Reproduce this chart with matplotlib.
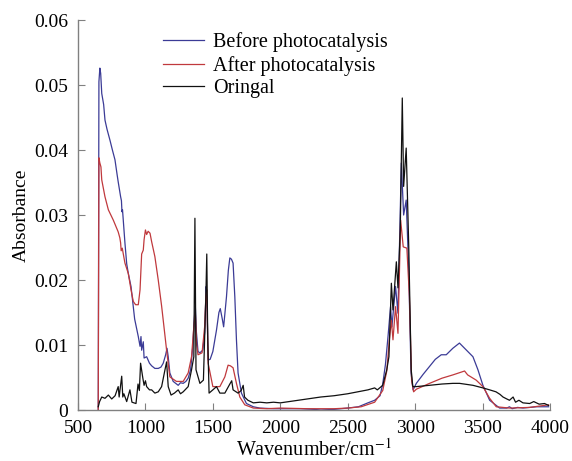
import matplotlib

matplotlib.use("Agg")
import matplotlib.pyplot as plt
import matplotlib.ticker as mticker

plt.rcParams["font.family"] = ["Liberation Serif", "DejaVu Serif"]
plt.rcParams["mathtext.fontset"] = "stix"

# FTIR spectra, wavenumber (cm^-1) vs absorbance
before_wn = [650, 655, 662, 668, 676, 690, 700, 715, 737, 755, 774, 790, 798, 816, 822, 826,
             830, 848, 861, 873, 893, 905, 920, 947, 960, 967, 972, 984, 990, 1009, 1030,
             1046, 1070, 1095, 1115, 1132, 1150, 1160, 1169, 1181, 1206, 1243, 1260, 1280,
             1300, 1317, 1335, 1350, 1362, 1370, 1378, 1390, 1404, 1425, 1440, 1450, 1456,
             1465, 1480, 1500, 1527, 1545, 1555, 1570, 1580, 1601, 1615, 1626, 1638, 1650,
             1663, 1675, 1687, 1712, 1749, 1800, 1848, 1950, 2050, 2150, 2250, 2300, 2400,
             2500, 2580, 2650, 2700, 2740, 2760, 2780, 2800, 2818, 2828, 2855, 2873, 2898,
             2915, 2934, 2952, 2970, 2985, 3009, 3060, 3107, 3150, 3194, 3231, 3280, 3329,
             3367, 3429, 3466, 3503, 3553, 3627, 3680, 3700, 3720, 3760, 3800, 3900, 3990]
before_abs = [0.0, 0.0505, 0.0526, 0.0518, 0.0487, 0.0470, 0.0446, 0.0432, 0.0415, 0.0400,
              0.0385, 0.0362, 0.0351, 0.0328, 0.0322, 0.0305, 0.0308, 0.0257, 0.0225, 0.0210,
              0.0190, 0.0168, 0.0140, 0.0113, 0.0098, 0.0113, 0.0092, 0.0105, 0.0080, 0.0082,
              0.0072, 0.0068, 0.0064, 0.0064, 0.0066, 0.0072, 0.0085, 0.0095, 0.0082, 0.0057,
              0.0044, 0.0038, 0.0042, 0.0041, 0.0044, 0.0049, 0.0062, 0.0095, 0.0140, 0.0160,
              0.0120, 0.0090, 0.0088, 0.0092, 0.0120, 0.0190, 0.0170, 0.0077, 0.0078, 0.0090,
              0.0123, 0.0150, 0.0156, 0.0140, 0.0128, 0.0174, 0.0215, 0.0234, 0.0232, 0.0226,
              0.0174, 0.0108, 0.0057, 0.0026, 0.0010, 0.0005, 0.0003, 0.0002, 0.0002, 0.0002,
              0.0001, 0.0000, 0.0001, 0.0003, 0.0005, 0.0011, 0.0015, 0.0022, 0.0040, 0.0070,
              0.0115, 0.0159, 0.0128, 0.0190, 0.0149, 0.0380, 0.0300, 0.0323, 0.0220, 0.0057,
              0.0031, 0.0041, 0.0055, 0.0067, 0.0078, 0.0085, 0.0085, 0.0095, 0.0103, 0.0095,
              0.0082, 0.0062, 0.0038, 0.0015, 0.0003, 0.0003, 0.0005, 0.0002, 0.0004, 0.0003,
              0.0005, 0.0005]

after_wn = [650, 655, 662, 670, 676, 700, 725, 762, 798, 810, 816, 820, 828, 848, 873, 893,
            910, 927, 947, 960, 972, 984, 990, 1000, 1009, 1020, 1034, 1046, 1070, 1095,
            1120, 1132, 1157, 1181, 1230, 1280, 1317, 1342, 1359, 1370, 1380, 1390, 1420,
            1440, 1448, 1455, 1465, 1500, 1552, 1589, 1613, 1630, 1650, 1675, 1700, 1737,
            1800, 1900, 2000, 2200, 2400, 2500, 2600, 2700, 2760, 2790, 2810, 2824, 2836,
            2855, 2873, 2893, 2912, 2939, 2958, 2974, 2989, 3009, 3107, 3200, 3280, 3367,
            3390, 3453, 3503, 3553, 3602, 3700, 3850, 3990]
after_abs = [0.0, 0.0388, 0.0380, 0.0374, 0.0354, 0.0328, 0.0308, 0.0292, 0.0274, 0.0265,
             0.0257, 0.0245, 0.0249, 0.0226, 0.0210, 0.0185, 0.0167, 0.0162, 0.0162, 0.0185,
             0.0240, 0.0246, 0.0262, 0.0277, 0.0270, 0.0275, 0.0272, 0.0259, 0.0236, 0.0200,
             0.0160, 0.0138, 0.0092, 0.0051, 0.0044, 0.0044, 0.0057, 0.0082, 0.0128, 0.0150,
             0.0100, 0.0085, 0.0088, 0.0130, 0.0174, 0.0185, 0.0072, 0.0036, 0.0036, 0.0051,
             0.0069, 0.0068, 0.0065, 0.0041, 0.0020, 0.0008, 0.0003, 0.0002, 0.0003, 0.0002,
             0.0002, 0.0003, 0.0005, 0.0012, 0.0030, 0.0060, 0.0110, 0.0138, 0.0108, 0.0159,
             0.0118, 0.0292, 0.0251, 0.0249, 0.0174, 0.0046, 0.0028, 0.0032, 0.0041, 0.0049,
             0.0054, 0.0060, 0.0054, 0.0046, 0.0036, 0.0018, 0.0005, 0.0003, 0.0004, 0.0008]

orig_wn = [650, 660, 676, 700, 725, 750, 775, 798, 805, 824, 832, 840, 861, 885, 900, 930,
           945, 955, 964, 980, 990, 1000, 1009, 1030, 1046, 1070, 1095, 1120, 1145, 1157,
           1169, 1190, 1215, 1243, 1260, 1280, 1317, 1342, 1359, 1367, 1375, 1404, 1430,
           1448, 1455, 1462, 1472, 1500, 1527, 1552, 1589, 1626, 1640, 1650, 1687, 1710,
           1725, 1735, 1760, 1800, 1850, 1900, 1950, 2000, 2100, 2200, 2300, 2400, 2500,
           2600, 2650, 2700, 2720, 2760, 2790, 2806, 2824, 2836, 2861, 2873, 2890, 2905,
           2915, 2934, 2953, 2971, 2983, 3009, 3107, 3200, 3280, 3330, 3429, 3503, 3553,
           3600, 3630, 3652, 3680, 3700, 3727, 3745, 3770, 3800, 3850, 3880, 3920, 3960, 3990]
orig_abs = [0.0005, 0.0013, 0.0020, 0.0018, 0.0023, 0.0017, 0.0022, 0.0036, 0.0020, 0.0052,
            0.0020, 0.0025, 0.0013, 0.0031, 0.0012, 0.0010, 0.0040, 0.0030, 0.0072, 0.0050,
            0.0038, 0.0045, 0.0036, 0.0031, 0.0031, 0.0026, 0.0028, 0.0036, 0.0062, 0.0074,
            0.0036, 0.0023, 0.0026, 0.0031, 0.0025, 0.0028, 0.0036, 0.0062, 0.0082, 0.0295,
            0.0062, 0.0041, 0.0046, 0.0174, 0.0240, 0.0110, 0.0026, 0.0031, 0.0036, 0.0026,
            0.0026, 0.0040, 0.0045, 0.0031, 0.0026, 0.0030, 0.0038, 0.0020, 0.0015, 0.0011,
            0.0012, 0.0011, 0.0012, 0.0011, 0.0014, 0.0017, 0.0020, 0.0022, 0.0025, 0.0029,
            0.0031, 0.0034, 0.0031, 0.0038, 0.0062, 0.0082, 0.0195, 0.0154, 0.0228, 0.0188,
            0.0277, 0.0480, 0.0344, 0.0403, 0.0251, 0.0062, 0.0036, 0.0036, 0.0038, 0.0040,
            0.0041, 0.0041, 0.0038, 0.0034, 0.0031, 0.0028, 0.0024, 0.0020, 0.0017, 0.0015,
            0.0020, 0.0012, 0.0015, 0.0011, 0.0010, 0.0013, 0.0009, 0.0010, 0.0007]

x_ticks = [500, 1000, 1500, 2000, 2500, 3000, 3500, 4000]
y_ticks = [0, 0.01, 0.02, 0.03, 0.04, 0.05, 0.06]

fig = plt.figure(figsize=(5.72, 4.61), dpi=100)
ax = fig.add_axes([0.1364, 0.1106, 0.825, 0.846])

ax.plot(before_wn, before_abs, color="#3b3b96", linewidth=0.9, label="Before photocatalysis")
ax.plot(after_wn, after_abs, color="#c0393d", linewidth=0.9, label="After photocatalysis")
ax.plot(orig_wn, orig_abs, color="#111111", linewidth=0.9, label="Oringal")

ax.set_xlim(500, 4000)
ax.set_ylim(0, 0.06)
ax.set_xticks(x_ticks)
ax.set_yticks(y_ticks)
ax.yaxis.set_major_formatter(mticker.FuncFormatter(lambda v, p: "0" if v == 0 else f"{v:.2f}"))
ax.tick_params(direction="in", length=5, width=0.8, color="#808080", labelsize=14)
ax.tick_params(axis="x", pad=7)
ax.tick_params(axis="y", pad=7)

for side in ("top", "right"):
    ax.spines[side].set_visible(False)
for side in ("left", "bottom"):
    ax.spines[side].set_color("#808080")
    ax.spines[side].set_linewidth(1.0)

ax.set_xlabel("Wavenumber/cm$^{-1}$", fontsize=14.5, labelpad=1)
ax.set_ylabel("Absorbance", fontsize=14, labelpad=3)

ax.legend(loc="upper left", bbox_to_anchor=(0.15, 1.005), frameon=False, fontsize=14.5,
          handlelength=2.05, handletextpad=0.45, labelspacing=0.18, borderaxespad=0.3)

fig.savefig("out.png", dpi=100)
